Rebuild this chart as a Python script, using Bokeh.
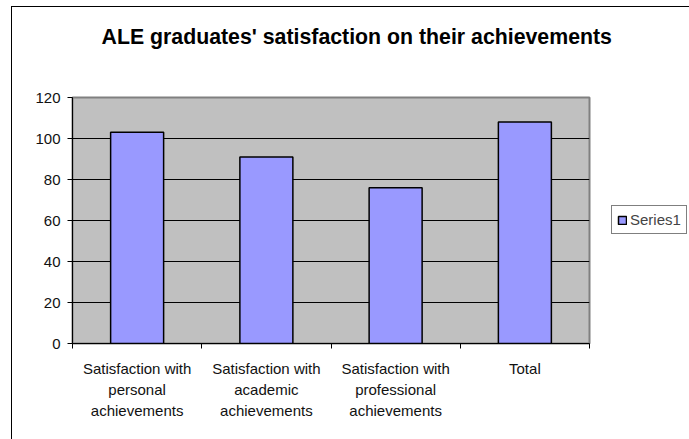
from bokeh.plotting import figure
from bokeh.models import FixedTicker, Range1d, Legend, LegendItem, Title, ColumnDataSource
from bokeh.embed import file_html
from bokeh.resources import INLINE

categories = ["Satisfaction with\npersonal\nachievements",
              "Satisfaction with\nacademic\nachievements",
              "Satisfaction with\nprofessional\nachievements",
              "Total"]
values = [103, 91, 76, 108]
y_ticks = [0, 20, 40, 60, 80, 100, 120]
series_name = "Series1"
title_text = "ALE graduates' satisfaction on their achievements"

FONT = "Liberation Sans"

positions = [i + 0.5 for i in range(len(categories))]
boundaries = [i for i in range(len(categories) + 1)]
src = ColumnDataSource(dict(x=positions, top=values))

p = figure(frame_width=517, frame_height=246, output_backend="svg", toolbar_location=None,
           x_range=Range1d(0, len(categories)), y_range=Range1d(0, 120),
           min_border_left=60, min_border_right=100, min_border_top=90,
           min_border_bottom=96)
p.styles = {"margin-left": "11px", "margin-top": "6px",
            "border-left": "1px solid black", "border-top": "1px solid black"}

p.background_fill_color = "#C0C0C0"
p.border_fill_color = "white"
p.outline_line_color = "#808080"
p.outline_line_width = 2

r = p.vbar(x="x", top="top", width=0.41, source=src, fill_color="#9999FF",
           line_color="black", line_width=1.5)

# axes
p.xaxis.ticker = FixedTicker(ticks=positions, minor_ticks=boundaries)
p.xaxis.major_label_overrides = {pos: lab for pos, lab in zip(positions, categories)}
p.xaxis.major_tick_out = 0
p.xaxis.major_tick_in = 0
p.xaxis.minor_tick_out = 5
p.xaxis.minor_tick_in = 0
p.xaxis.minor_tick_line_color = "black"
p.xaxis.axis_line_color = "black"
p.xaxis.major_label_standoff = 11
p.xaxis.major_label_text_font = FONT
p.xaxis.major_label_text_font_size = "15px"
p.xaxis.major_label_text_color = "#111111"
p.xaxis.major_label_text_line_height = 1.25

p.yaxis.ticker = FixedTicker(ticks=y_ticks)
p.yaxis.minor_tick_line_color = None
p.yaxis.major_tick_out = 5
p.yaxis.major_tick_in = 0
p.yaxis.axis_line_color = "black"
p.yaxis.major_tick_line_color = "black"
p.yaxis.major_label_standoff = 7
p.yaxis.major_label_text_font = FONT
p.yaxis.major_label_text_font_size = "15px"
p.yaxis.major_label_text_color = "#111111"

p.xgrid.grid_line_color = None
p.ygrid.grid_line_color = "black"
p.ygrid.grid_line_width = 1
p.ygrid.ticker = FixedTicker(ticks=y_ticks)

# empty spacer title nearest the frame, then the real title above it
spacer = Title(text=" ", text_font_size="1px", standoff=44)
p.add_layout(spacer, "above")
t = Title(text=title_text, align="left", vertical_align="top", text_font=FONT,
          text_font_size="21.3px", text_font_style="bold", text_color="black",
          standoff=0, offset=29)
p.add_layout(t, "above")

legend = Legend(items=[LegendItem(label=series_name, renderers=[r])],
                location=(22, 109), border_line_color="black", border_line_width=1,
                padding=5, margin=0, glyph_width=10, glyph_height=10,
                label_standoff=3, label_text_font=FONT, label_text_font_size="15px",
                label_height=15, background_fill_color="white", background_fill_alpha=1)
p.add_layout(legend, "right")

open("out.html", "w").write(file_html(p, INLINE))
